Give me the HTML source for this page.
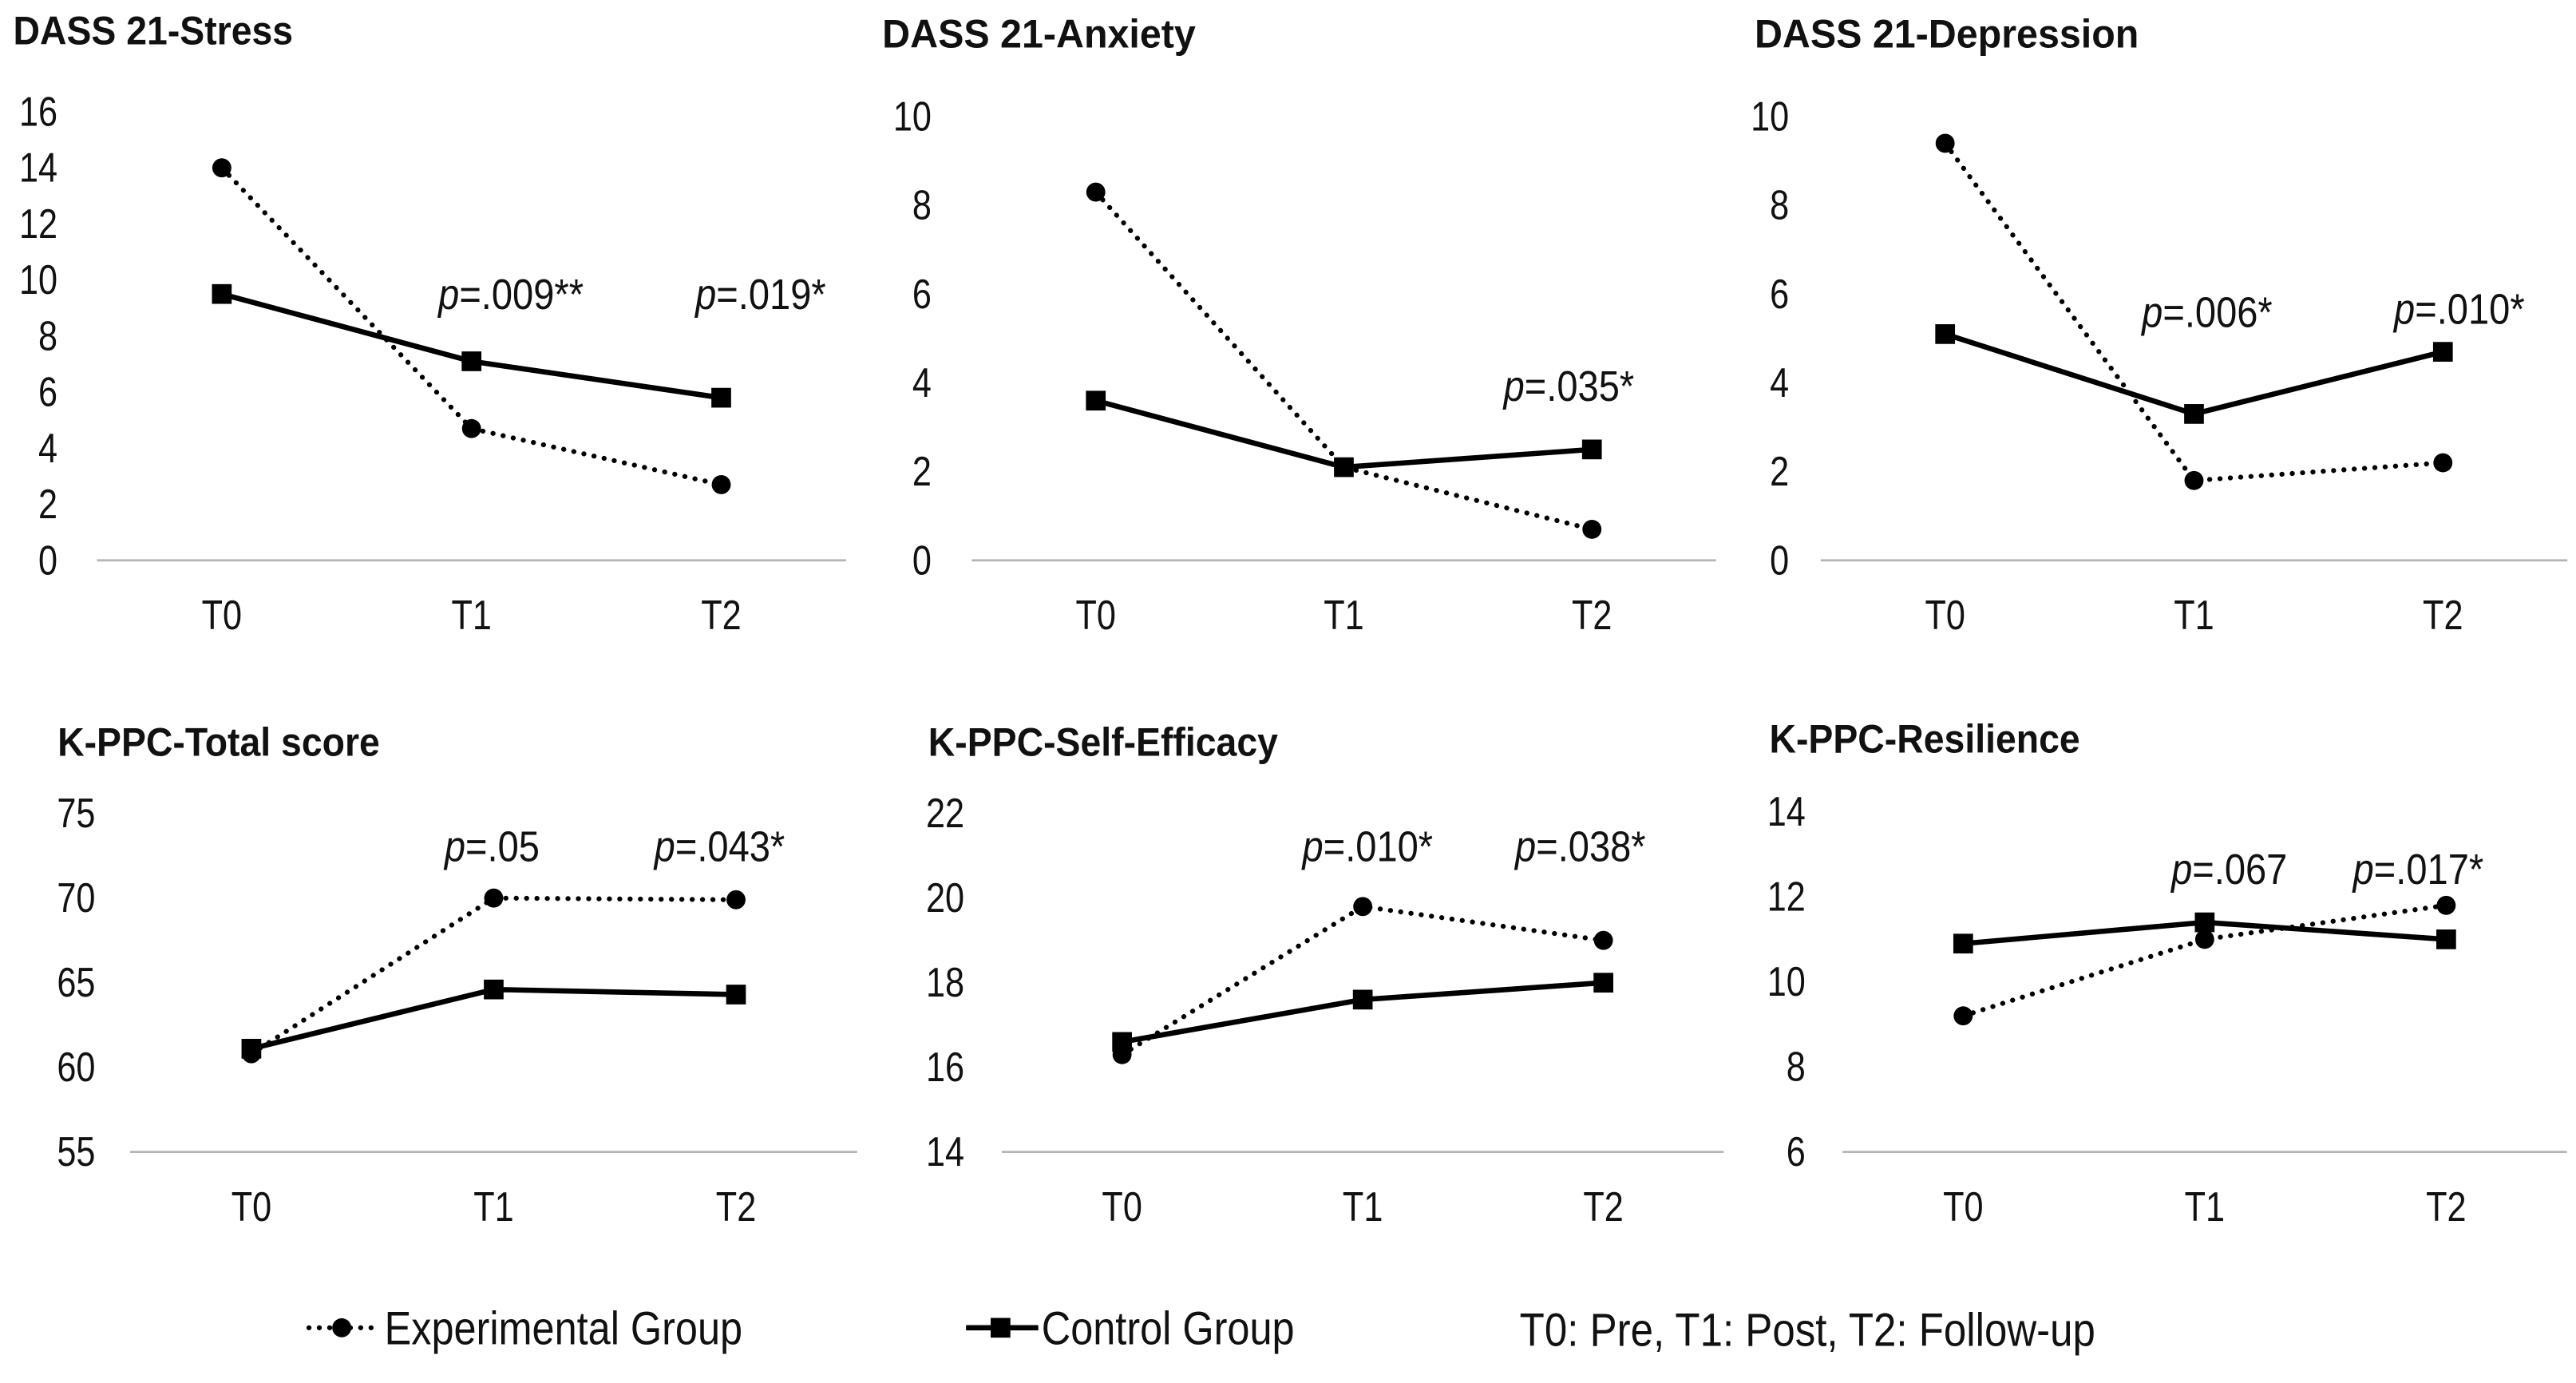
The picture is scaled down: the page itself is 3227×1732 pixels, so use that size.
<!DOCTYPE html>
<html><head><meta charset="utf-8"><style>
html,body{margin:0;padding:0;background:#fff;}
svg{display:block;font-family:"Liberation Sans",Arial,sans-serif;}
</style></head><body>
<svg id="chart" width="3227" height="1732" viewBox="0 0 1568 841.6" xmlns="http://www.w3.org/2000/svg"></svg>
<script>
const categories = ["T0","T1","T2"];
const stressExp = [14.0, 4.7, 2.7];
const stressCtrl = [9.5, 7.1, 5.8];
const stressTicks = [0,2,4,6,8,10,12,14,16];
const stressP = ["", "=.009**", "=.019*"];
const anxExp = [8.3, 2.1, 0.7];
const anxCtrl = [3.6, 2.1, 2.5];
const anxTicks = [0,2,4,6,8,10];
const anxP = ["", "", "=.035*"];
const depExp = [9.4, 1.8, 2.2];
const depCtrl = [5.1, 3.3, 4.7];
const depTicks = [0,2,4,6,8,10];
const depP = ["", "=.006*", "=.010*"];
const totExp = [60.8, 70.0, 69.9];
const totCtrl = [61.1, 64.6, 64.3];
const totTicks = [55,60,65,70,75];
const totP = ["", "=.05", "=.043*"];
const seExp = [16.3, 19.8, 19.0];
const seCtrl = [16.6, 17.6, 18.0];
const seTicks = [14,16,18,20,22];
const seP = ["", "=.010*", "=.038*"];
const resExp = [9.2, 11.0, 11.8];
const resCtrl = [10.9, 11.4, 11.0];
const resTicks = [6,8,10,12,14];
const resP = ["", "=.067", "=.017*"];

const svg = document.getElementById('chart');
const NS = "http://www.w3.org/2000/svg";
function mk(tag, attrs, parent){
  const e = document.createElementNS(NS, tag);
  for (const k in attrs) e.setAttribute(k, attrs[k]);
  (parent||svg).appendChild(e);
  return e;
}
function txt(parent, x, y, s, size, anchor, weight, sx){
  const t = mk('text', {transform:`translate(${x},${y}) scale(${sx||0.84},1)`, 'font-size':size, 'text-anchor':anchor||'start', 'font-weight':weight||'normal', fill:'#111'}, parent);
  t.textContent = s;
  return t;
}

const panels = [
 {key:'stress', title:'DASS 21-Stress', tx:8, ty:27, tsx:0.92, exp:stressExp, ctrl:stressCtrl, ticks:stressTicks, p:stressP, yTop:68, yBot:341, lx:35, x0:135, dx:152, pY:[0,188,188], pOff:[0,24,24]},
 {key:'anxiety', title:'DASS 21-Anxiety', tx:537, ty:29, tsx:0.96, exp:anxExp, ctrl:anxCtrl, ticks:anxTicks, p:anxP, yTop:71, yBot:341, lx:567, x0:667, dx:151, pY:[0,0,244], pOff:[0,0,-14]},
 {key:'depression', title:'DASS 21-Depression', tx:1068, ty:29, tsx:0.96, exp:depExp, ctrl:depCtrl, ticks:depTicks, p:depP, yTop:71, yBot:341, lx:1089, x0:1184, dx:151.5, pY:[0,199,197], pOff:[0,8,10]},
 {key:'total', title:'K-PPC-Total score', tx:35, ty:460, tsx:0.92, exp:totExp, ctrl:totCtrl, ticks:totTicks, p:totP, yTop:495, yBot:701, lx:58, x0:153, dx:147.5, pY:[0,524,524], pOff:[0,-1,-10]},
 {key:'self-efficacy', title:'K-PPC-Self-Efficacy', tx:565, ty:460, tsx:0.92, exp:seExp, ctrl:seCtrl, ticks:seTicks, p:seP, yTop:495, yBot:701, lx:587, x0:683, dx:146.5, pY:[0,524,524], pOff:[0,3,-14]},
 {key:'resilience', title:'K-PPC-Resilience', tx:1077, ty:458, tsx:0.92, exp:resExp, ctrl:resCtrl, ticks:resTicks, p:resP, yTop:494, yBot:701, lx:1099, x0:1195, dx:147, pY:[0,538,538], pOff:[0,15,-17]}
];

panels.forEach(P=>{
  const g = mk('g', {});
  
  
  const tmin = P.ticks[0], tmax = P.ticks[P.ticks.length-1];
  const y = v => P.yBot - (v - tmin) / (tmax - tmin) * (P.yBot - P.yTop);
  const x = i => P.x0 + i * P.dx;
  const t = txt(g, P.tx, P.ty, P.title, 24.5, 'start', 'bold', P.tsx);
  
  
  P.ticks.forEach(v=>{
    const l = txt(g, P.lx, y(v)+8.5, String(v), 25, 'end');
    
    
  });
  const ax = mk('line', {x1:x(-0.5), x2:x(2.5), y1:P.yBot, y2:P.yBot, stroke:'#b5b5b5', 'stroke-width':1.3}, g);
  
  
  categories.forEach((c,i)=>{
    const l = txt(g, x(i), P.yBot+42, c, 25, 'middle');
    
    
  });
  const cl = mk('polyline', {points:P.ctrl.map((v,i)=>x(i)+','+y(v)).join(' '), fill:'none', stroke:'#000', 'stroke-width':3.2, 'stroke-linejoin':'round'}, g);
  
  
  const el = mk('polyline', {points:P.exp.map((v,i)=>x(i)+','+y(v)).join(' '), fill:'none', stroke:'#000', 'stroke-width':3, 'stroke-dasharray':'0.1 6.2', 'stroke-linecap':'round'}, g);
  
  
  P.ctrl.forEach((v,i)=>{
    const m = mk('rect', {x:x(i)-6, y:y(v)-6, width:12, height:12, fill:'#000'}, g);
    
    
  });
  P.exp.forEach((v,i)=>{
    const m = mk('circle', {cx:x(i), cy:y(v), r:5.8, fill:'#000'}, g);
    
    
  });
  P.p.forEach((s,i)=>{
    if(!s) return;
    const t2 = mk('text', {transform:`translate(${x(i)+P.pOff[i]},${P.pY[i]}) scale(0.88,1)`, 'font-size':26, 'text-anchor':'middle', fill:'#111'}, g);
    
    
    const it = document.createElementNS(NS,'tspan'); it.setAttribute('font-style','italic'); it.textContent='p';
    t2.appendChild(it);
    t2.appendChild(document.createTextNode(s));
  });
});

const lg = mk('g', {});


const le = mk('g', {}, lg);


mk('line', {x1:188, x2:231, y1:808, y2:808, stroke:'#000', 'stroke-width':3, 'stroke-dasharray':'0.1 6.2', 'stroke-linecap':'round'}, le);
mk('circle', {cx:208, cy:808, r:5.8, fill:'#000'}, le);
txt(le, 234, 818, 'Experimental Group', 28.5, 'start', 'normal', 0.86);
const lc = mk('g', {}, lg);


mk('line', {x1:588, x2:632, y1:808, y2:808, stroke:'#000', 'stroke-width':3.2}, lc);
mk('rect', {x:603, y:802, width:12, height:12, fill:'#000'}, lc);
txt(lc, 634, 818, 'Control Group', 28.5, 'start', 'normal', 0.86);
const note = txt(lg, 925, 819, 'T0: Pre, T1: Post, T2: Follow-up', 28.5, 'start', 'normal', 0.87);


</script>
</body></html>
